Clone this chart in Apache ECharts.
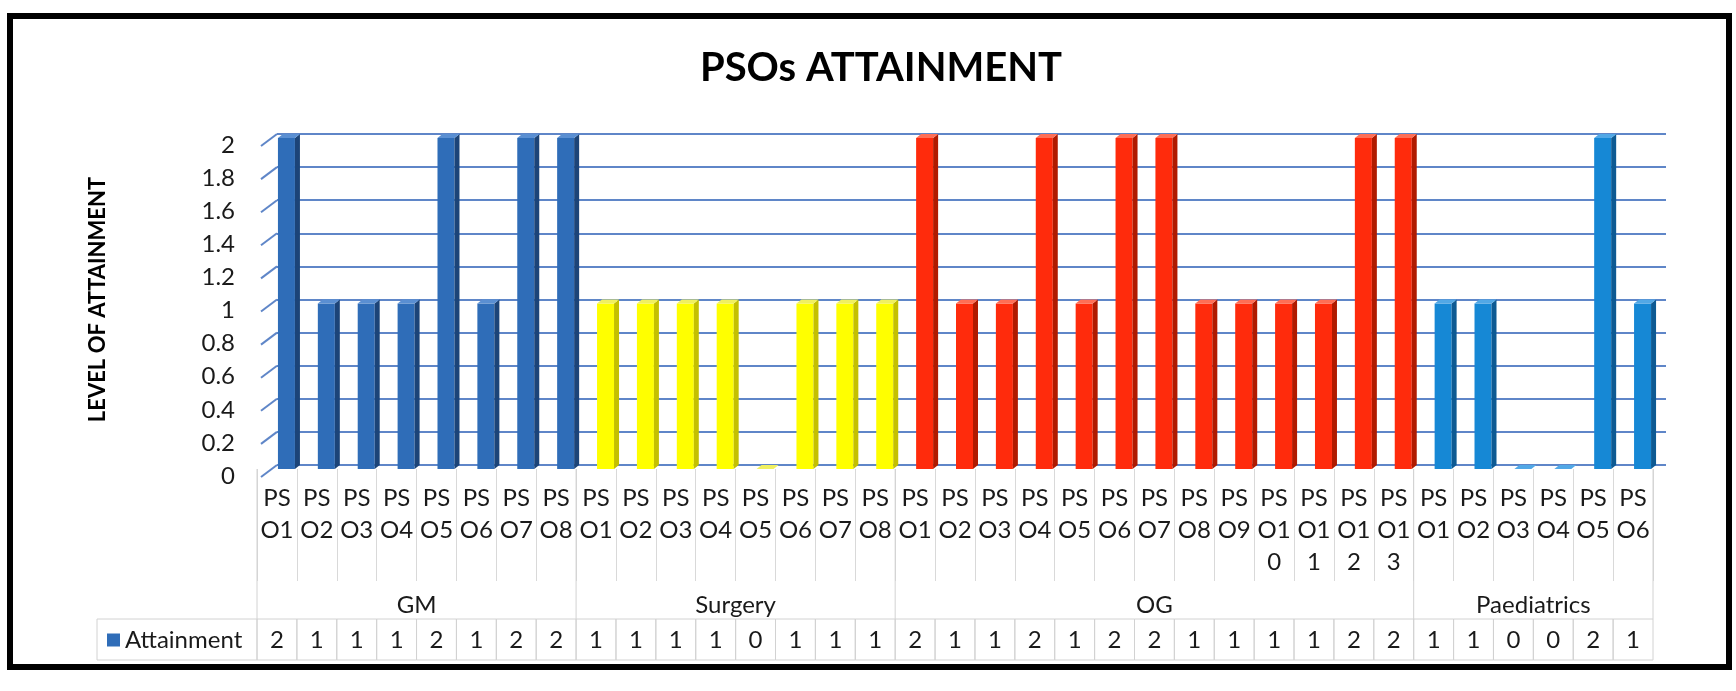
<!DOCTYPE html>
<html>
<head>
<meta charset="utf-8">
<script src="https://cdn.jsdelivr.net/npm/echarts@6/dist/echarts.min.js"></script>
<style>
  html, body { margin: 0; padding: 0; background: #fff; }
  #chart { width: 1736px; height: 691px; }
</style>
</head>
<body>
<div id="chart"></div>
<script>
// PSO labels, per department
const psoNames = [
  "PSO1", "PSO2", "PSO3", "PSO4", "PSO5", "PSO6", "PSO7", "PSO8",
  "PSO1", "PSO2", "PSO3", "PSO4", "PSO5", "PSO6", "PSO7", "PSO8",
  "PSO1", "PSO2", "PSO3", "PSO4", "PSO5", "PSO6", "PSO7", "PSO8", "PSO9", "PSO10", "PSO11", "PSO12", "PSO13",
  "PSO1", "PSO2", "PSO3", "PSO4", "PSO5", "PSO6",
];
const groupNames = ["GM", "Surgery", "OG", "Paediatrics"];
const groupSizes = [8, 8, 13, 6];
const attainment = [
  2, 1, 1, 1, 2, 1, 2, 2,
  1, 1, 1, 1, 0, 1, 1, 1,
  2, 1, 1, 2, 1, 2, 2, 1, 1, 1, 1, 2, 2,
  1, 1, 0, 0, 2, 1,
];
const yTicks = [0, 0.2, 0.4, 0.6, 0.8, 1, 1.2, 1.4, 1.6, 1.8, 2];

// front / side / top colours for each department
const groupColors = [
  ["#2f6db8", "#1c4478", "#5a8fd2"],
  ["#ffff00", "#c4c000", "#f0f060"],
  ["#ff2b0c", "#b01a00", "#ff6e55"],
  ["#1688d5", "#0d5a93", "#52a8e6"],
];

const FONT = "Lato";
const TEXT = "#1a1a1a";

const groupStart = [];
const groupOfIndex = [];
let acc = 0;
groupSizes.forEach((n, g) => {
  groupStart.push(acc);
  for (let k = 0; k < n; k++) groupOfIndex.push(g);
  acc += n;
});

function renderBar(params, api) {
  const i = api.value(0);
  const v = api.value(1);
  const base = api.coord([i, 0]);
  const top = api.coord([i, v]);
  const cols = groupColors[groupOfIndex[i]];
  const w = 17, d = 5, dy = 4;
  const x0 = base[0] + 1;
  const yt = top[1], yb = base[1];
  return {
    type: "group",
    children: [
      {
        type: "rect",
        shape: { x: x0, y: yt, width: w, height: yb - yt },
        style: { fill: cols[0] },
      },
      {
        type: "polygon",
        shape: { points: [[x0 + w, yt], [x0 + w + d, yt - dy], [x0 + w + d, yb - dy], [x0 + w, yb]] },
        style: { fill: cols[1] },
      },
      {
        type: "polygon",
        shape: { points: [[x0, yt], [x0 + d, yt - dy], [x0 + w + d, yt - dy], [x0 + w, yt]] },
        style: { fill: cols[2] },
      },
    ],
  };
}

function renderTable(params, api) {
  const i = api.value(0);
  const c = api.coord([i, 0]);
  const w = api.size([1, 0])[0];
  const x0 = c[0] - w / 2;
  const axisY = c[1];
  const rowTop = axisY + 150;
  const rowH = 41;
  const line = "#d2d2d2";
  const children = [
    {
      type: "rect",
      shape: { x: x0, y: rowTop, width: w, height: rowH },
      style: { fill: "none", stroke: line, lineWidth: 1 },
    },
    {
      type: "text",
      style: {
        text: String(attainment[i]),
        x: c[0], y: rowTop + rowH / 2 + 1,
        align: "center", verticalAlign: "middle",
        fontSize: 24, fontFamily: FONT, fill: TEXT,
      },
    },
  ];
  const g = groupOfIndex[i];
  if (groupStart[g] === i) {
    children.push({
      type: "line",
      shape: { x1: x0, y1: axisY, x2: x0, y2: rowTop },
      style: { stroke: line, lineWidth: 1 },
    });
    children.push({
      type: "text",
      style: {
        text: groupNames[g],
        x: x0 + (groupSizes[g] * w) / 2, y: axisY + 136,
        align: "center", verticalAlign: "middle",
        fontSize: 24, fontFamily: FONT, fill: TEXT,
      },
    });
  }
  if (i === attainment.length - 1) {
    children.push({
      type: "line",
      shape: { x1: x0 + w, y1: axisY, x2: x0 + w, y2: rowTop },
      style: { stroke: line, lineWidth: 1 },
    });
  }
  return { type: "group", children };
}

function renderStub(params, api) {
  const p = api.coord([0, api.value(0)]);
  return {
    type: "line",
    shape: { x1: p[0] - 16, y1: p[1] + 12, x2: p[0], y2: p[1] },
    style: { stroke: "#5f86c8", lineWidth: 2 },
  };
}

const chart = echarts.init(document.getElementById("chart"), null, {
  renderer: "canvas",
});

const option = {
  backgroundColor: "#fff",
  animation: false,
  title: {
    text: "PSOs ATTAINMENT",
    left: 881,
    top: 48,
    textAlign: "center",
    padding: 0,
    textStyle: {
      fontFamily: FONT,
      fontSize: 40,
      fontWeight: "bold",
      color: "#000",
    },
  },
  legend: {
    left: 107,
    top: 628,
    padding: 0,
    itemWidth: 13,
    itemHeight: 13,
    icon: "rect",
    data: [{ name: "Attainment", itemStyle: { color: groupColors[0][0] } }],
    textStyle: { fontFamily: FONT, fontSize: 24, color: TEXT },
  },
  grid: [
    // back wall: gridlines and value labels
    { left: 277, right: 70, top: 134, height: 331 },
    // floor: bars and category labels
    { left: 257, right: 83, top: 138, height: 331 },
  ],
  xAxis: [
    { gridIndex: 0, type: "value", min: 0, max: 1, show: false },
    {
      gridIndex: 1,
      type: "category",
      data: psoNames,
      axisLine: { show: false },
      axisTick: {
        show: true,
        interval: 0,
        length: 112,
        lineStyle: { color: "#d9d9d9", width: 1 },
      },
      axisLabel: {
        interval: 0,
        margin: 13,
        fontFamily: FONT,
        fontSize: 24,
        lineHeight: 32,
        color: TEXT,
        formatter: (s) => s.match(/.{1,2}/g).join("\n"),
      },
    },
  ],
  yAxis: [
    {
      gridIndex: 0,
      type: "value",
      min: 0,
      max: 2,
      interval: 0.2,
      name: "LEVEL OF ATTAINMENT",
      nameLocation: "middle",
      nameRotate: 90,
      nameGap: 168,
      nameTextStyle: {
        fontFamily: FONT,
        fontSize: 22,
        fontWeight: "bold",
        color: "#000",
      },
      axisLine: { show: false },
      axisTick: { show: false },
      splitLine: { lineStyle: { color: "#5f86c8", width: 2 } },
      axisLabel: {
        margin: 42,
        fontFamily: FONT,
        fontSize: 24,
        color: TEXT,
        verticalAlign: "top",
        lineHeight: 22,
      },
    },
    { gridIndex: 1, type: "value", min: 0, max: 2, show: false },
  ],
  series: [
    {
      type: "custom",
      name: "stubs",
      xAxisIndex: 0,
      yAxisIndex: 0,
      silent: true,
      clip: false,
      renderItem: renderStub,
      data: yTicks.map((t) => [t]),
      encode: { y: 0 },
    },
    {
      type: "custom",
      name: "Attainment",
      xAxisIndex: 1,
      yAxisIndex: 1,
      clip: false,
      itemStyle: { color: groupColors[0][0] },
      renderItem: renderBar,
      data: attainment.map((v, i) => [i, v]),
    },
    {
      type: "custom",
      name: "table",
      xAxisIndex: 1,
      yAxisIndex: 1,
      silent: true,
      clip: false,
      renderItem: renderTable,
      data: attainment.map((v, i) => [i, v]),
    },
  ],
  graphic: [
    {
      type: "rect",
      shape: { x: 97, y: 619, width: 160, height: 41 },
      style: { fill: "none", stroke: "#d2d2d2", lineWidth: 1 },
      z: 0,
    },
    {
      type: "rect",
      shape: { x: 10, y: 16, width: 1719, height: 651 },
      style: { fill: "none", stroke: "#000", lineWidth: 6 },
      z: 10,
    },
  ],
};

chart.setOption(option);
</script>
</body>
</html>
